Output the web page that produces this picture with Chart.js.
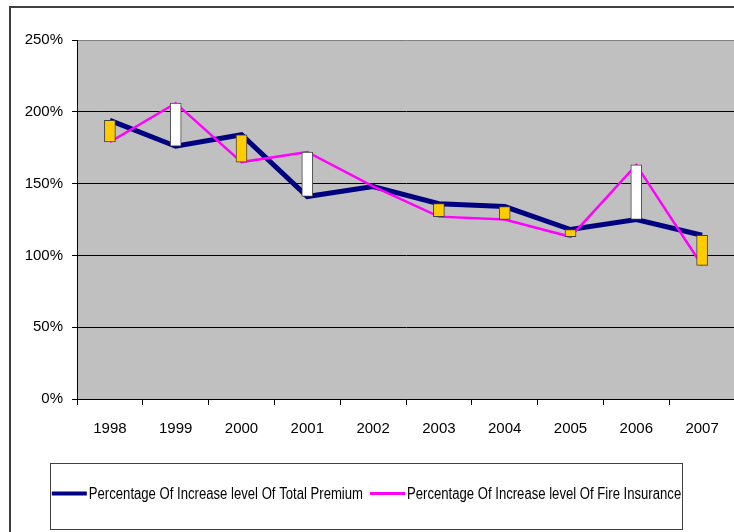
<!DOCTYPE html>
<html>
<head>
<meta charset="utf-8">
<script src="https://cdn.jsdelivr.net/npm/chart.js@4"></script>
<style>
  html, body { margin: 0; padding: 0; width: 734px; height: 532px; overflow: hidden; background: #fff; }
  #wrap { position: relative; width: 740px; height: 532px; }
</style>
</head>
<body>
<div id="wrap"><canvas id="chart"></canvas></div>
<script>
const years = ['1998', '1999', '2000', '2001', '2002', '2003', '2004', '2005', '2006', '2007'];
const totalPremium = [194, 176, 184, 141, 148, 136, 134, 118, 125, 114];
const fireInsurance = [179, 206, 165, 172, 148, 127, 125, 113, 163, 93];
const yTicks = [0, 50, 100, 150, 200, 250];

// up/down bars between the two series (white = fire above, gold = fire below)
const upDown = years.map((y, i) => totalPremium[i] === fireInsurance[i] ? null : [totalPremium[i], fireInsurance[i]]);
const upDownColors = years.map((y, i) => fireInsurance[i] > totalPremium[i] ? '#FFFFFF' : '#FFCC00');

const plotBg = {
    id: 'plotBg',
    beforeDraw(chart) {
        const a = chart.chartArea, ctx = chart.ctx;
        ctx.save();
        // outer chart frame (only left and top edges are inside the window)
        ctx.strokeStyle = '#404040';
        ctx.lineWidth = 2;
        ctx.beginPath();
        ctx.moveTo(10, chart.height + 5);
        ctx.lineTo(10, 7);
        ctx.lineTo(chart.width + 5, 7);
        ctx.stroke();
        ctx.fillStyle = '#C0C0C0';
        ctx.fillRect(a.left, a.top, a.right - a.left, a.bottom - a.top);
        ctx.restore();
    }
};

// legend drawn as in the spreadsheet: boxed, line samples, narrow text
const boxedLegend = {
    id: 'boxedLegend',
    afterDraw(chart) {
        const ctx = chart.ctx;
        const box = { left: 50.5, top: 463.5, right: 682.5, bottom: 529.5 };
        const items = chart.data.datasets.filter(d => d.type === 'line');
        const squeeze = 0.82;
        ctx.save();
        ctx.strokeStyle = '#404040';
        ctx.lineWidth = 1;
        ctx.strokeRect(box.left, box.top, box.right - box.left, box.bottom - box.top);
        ctx.font = '16px "Liberation Sans", Arial, sans-serif';
        ctx.textBaseline = 'middle';
        ctx.fillStyle = '#000';
        const sample = 35, gap = 2, between = 7;
        const widths = items.map(d => sample + gap + ctx.measureText(d.label).width * squeeze);
        const total = widths.reduce((s, w) => s + w, 0) + between * (items.length - 1);
        let x = (box.left + box.right) / 2 - total / 2;
        const y = (box.top + box.bottom) / 2 - 3;
        items.forEach((d, i) => {
            ctx.strokeStyle = d.borderColor;
            ctx.lineWidth = d.borderWidth > 3 ? 4 : 3;
            ctx.beginPath();
            ctx.moveTo(x, y);
            ctx.lineTo(x + sample, y);
            ctx.stroke();
            ctx.save();
            ctx.translate(x + sample + gap, y + 1);
            ctx.scale(squeeze, 1);
            ctx.fillText(d.label, 0, 0);
            ctx.restore();
            x += widths[i] + between;
        });
        ctx.restore();
    }
};

new Chart(document.getElementById('chart'), {
    type: 'bar',
    data: {
        labels: years,
        datasets: [{
            type: 'bar',
            label: 'Up/Down',
            data: upDown,
            backgroundColor: upDownColors,
            borderColor: '#404040',
            borderWidth: 1,
            borderSkipped: false,
            barThickness: 11,
            order: 0
        }, {
            type: 'line',
            label: 'Percentage Of Increase level Of Total Premium',
            data: totalPremium,
            borderColor: '#000080',
            backgroundColor: '#000080',
            borderWidth: 5,
            pointRadius: 0,
            tension: 0,
            order: 2
        }, {
            type: 'line',
            label: 'Percentage Of Increase level Of Fire Insurance',
            data: fireInsurance,
            borderColor: '#FF00FF',
            backgroundColor: '#FF00FF',
            borderWidth: 2.5,
            pointRadius: 0,
            tension: 0,
            order: 1
        }]
    },
    options: {
        responsive: true,
        maintainAspectRatio: false,
        animation: false,
        layout: { padding: { top: 40, left: 0, right: 5, bottom: 93 } },
        plugins: {
            legend: { display: false },
            tooltip: { enabled: false },
            title: { display: false }
        },
        scales: {
            x: {
                offset: true,
                afterFit: s => { s.height = 40; },
                grid: { display: true, drawOnChartArea: false, offset: true, tickLength: 6, color: '#000' },
                border: { display: true, color: '#000', width: 1 },
                ticks: {
                    color: '#000',
                    padding: 15,
                    maxRotation: 0,
                    font: { family: '"Liberation Sans", Arial, sans-serif', size: 15 }
                }
            },
            y: {
                min: yTicks[0],
                max: yTicks[yTicks.length - 1],
                afterFit: s => { s.width = 77; },
                afterBuildTicks: s => { s.ticks = yTicks.map(v => ({ value: v })); },
                grid: {
                    color: ctx => ctx.tick && ctx.tick.value === 250 ? '#808080' : '#000',
                    tickColor: '#000',
                    tickLength: 5
                },
                border: { display: true, color: '#000', width: 1 },
                ticks: {
                    color: '#000',
                    padding: 9,
                    callback: v => v + '%',
                    font: { family: '"Liberation Sans", Arial, sans-serif', size: 15 }
                }
            }
        }
    },
    plugins: [plotBg, boxedLegend]
});
</script>
</body>
</html>
